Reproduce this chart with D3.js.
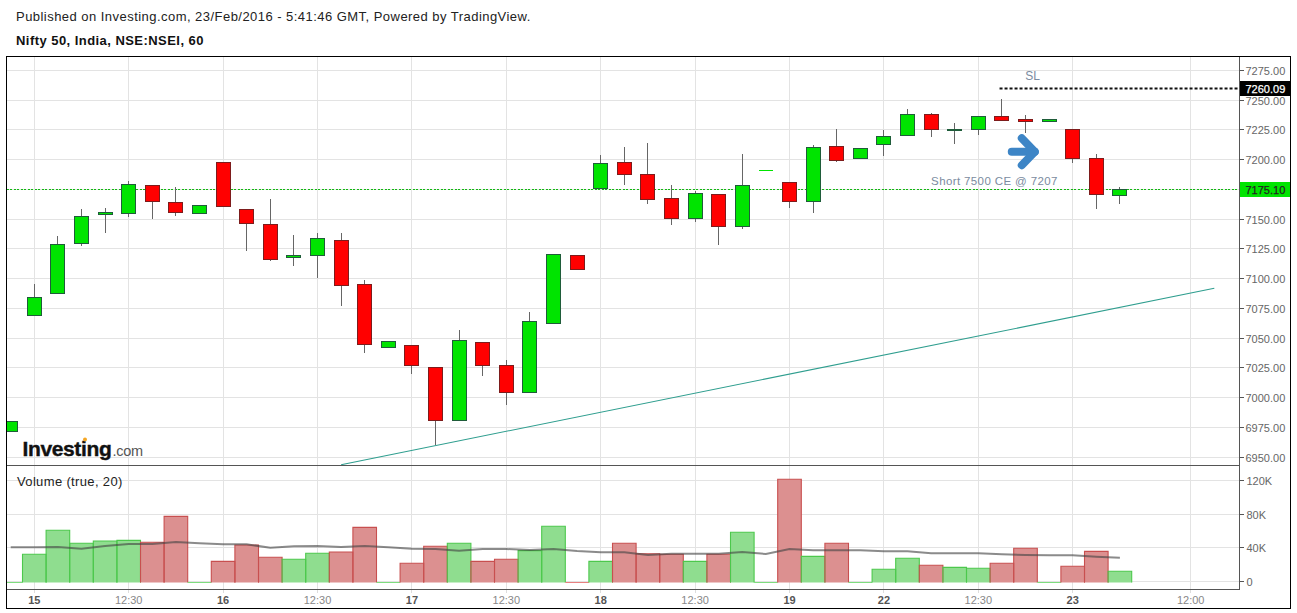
<!DOCTYPE html>
<html><head><meta charset="utf-8">
<script src="https://cdn.jsdelivr.net/npm/d3@7"></script>
<style>
html,body{margin:0;padding:0;background:#fff;overflow:hidden}
svg{display:block}
text{font-family:"Liberation Sans",Arial,sans-serif}
</style></head><body><div id="c"></div>
<script>
// bars start one hour before the "15" tick
const firstIndex = -1;
const open  = [6971.3,7068.8,7087.3,7129.3,7153.7,7154.8,7178.4,7164.1,7154.8,7197.7,7158.2,7145.6,7117.5,7119.2,7132.1,7095.2,7041.9,7043.9,7025.4,6980.9,7046.4,7027.1,7004.4,7062.1,7119.5,7175.5,7197.7,7187.6,7167.4,7150.3,7170.8,7143.6,7191.0,7180.9,7164.6,7211.1,7200.7,7212.5,7220.0,7238.0,7224.2,7225.1,7236.3,7233.8,7231.8,7225.4,7201.1,7169.6];
const high  = [6980.0,7095.4,7135.8,7158.5,7159.3,7181.7,7178.4,7176.9,7161.6,7197.7,7158.2,7166.9,7136.6,7138.3,7138.3,7098.8,7047.3,7043.9,7025.4,7056.8,7046.4,7031.6,7071.9,7120.4,7119.5,7203.8,7210.5,7213.9,7178.6,7173.6,7170.8,7204.7,7191.0,7180.9,7212.2,7225.7,7209.5,7224.8,7242.5,7239.1,7230.7,7236.3,7250.9,7237.4,7233.8,7225.4,7204.7,7176.7];
const low   = [6971.3,7068.8,7087.3,7127.4,7138.3,7152.0,7150.0,7152.6,7154.8,7160.4,7123.2,7114.8,7110.6,7100.7,7077.2,7037.7,7041.9,7019.8,6960.1,6980.9,7018.1,6993.7,7004.4,7062.1,7107.4,7175.5,7178.6,7162.7,7145.0,7147.5,7128.2,7141.6,7191.0,7159.3,7155.1,7197.9,7200.7,7203.0,7220.0,7219.0,7213.1,7220.9,7232.6,7222.3,7231.8,7197.4,7158.5,7162.7];
const close = [6980.0,7084.2,7128.8,7152.3,7155.1,7179.2,7164.6,7155.7,7161.6,7160.4,7146.1,7115.8,7119.5,7133.8,7094.0,7044.4,7047.3,7026.8,6980.9,7048.1,7026.8,7004.4,7064.1,7120.4,7107.4,7196.9,7187.3,7166.3,7150.3,7171.6,7143.6,7178.4,7191.0,7164.6,7210.3,7199.0,7209.5,7219.5,7238.0,7225.1,7225.4,7236.3,7232.6,7231.8,7233.8,7200.7,7170.5,7175.1];
const volume = [0,32.5,60.9,45.5,48.2,49.0,46.7,77.4,0,24.2,43.5,29.0,26.6,33.7,35.2,64.4,0,21.9,42.0,45.5,24.2,26.6,36.8,65.6,0,24.2,45.5,33.2,32.5,24.2,32.5,58.5,0,121.2,30.1,45.5,0,14.8,27.8,19.5,17.1,16.0,21.9,39.6,0,18.3,36.0,12.4];
const volumeUp = [1,1,1,1,1,1,0,0,1,0,0,0,1,1,0,0,1,0,0,1,0,0,1,1,0,1,0,0,0,1,0,1,1,0,1,0,1,1,1,0,1,1,0,0,1,0,0,1];
const volumeMA = [40.8,40.8,41.1,39.1,42.3,44.7,44.7,47.0,45.5,44.3,44.3,40.3,42.0,42.3,41.1,42.3,40.8,39.1,38.8,36.8,38.8,38.8,37.6,38.8,36.4,34.9,34.9,31.7,33.2,33.2,33.2,35.2,32.9,38.8,37.2,37.2,37.2,36.0,36.0,33.7,33.7,33.7,32.5,31.7,31.3,31.3,29.7,28.5];
const priceTicks = [6950,6975,7000,7025,7050,7075,7100,7125,7150,7175,7200,7225,7250,7275];
const volumeTicks = [0,40,80,120];
const timeTickIndex = [0,4,8,12,16,20,24,28,32,36,40,44,49];
const timeTickLabels = ["15","12:30","16","12:30","17","12:30","18","12:30","19","22","12:30","23","12:00"];
const lastPrice = 7175.10, stopLoss = 7260.09;
const trendIndex = [13,50], trendPrice = [6943.6,7091.8];
const headline = "Published on Investing.com, 23/Feb/2016 - 5:41:46 GMT, Powered by TradingView.";
const title = "Nifty 50, India, NSE:NSEI, 60";

const W=1297,H=613, L=6.5,T=56.5,R=1290.5,B=608.5, AX=1239.5, SEP=465.5, TAX=589.5;
const x=d3.scaleLinear().domain([0,49]).range([34.3,1190.7]);
const y=d3.scaleLinear().domain([6950,7275]).range([457.05,70.3]);
const yv=d3.scaleLinear().domain([0,120]).range([581.8,480.3]);
const px=v=>Math.floor(v)+.5;
const idx=d3.range(open.length).map(i=>i+firstIndex);

const svg=d3.select("#c").append("svg").attr("width",W).attr("height",H);
const defs=svg.append("defs");
defs.append("clipPath").attr("id","cp").append("rect").attr("x",L+.5).attr("y",T+.5).attr("width",AX-L-.5).attr("height",SEP-T-.5);
defs.append("clipPath").attr("id","cv").append("rect").attr("x",L+.5).attr("y",SEP+.5).attr("width",AX-L-.5).attr("height",TAX-SEP-.5);

svg.append("text").attr("x",16).attr("y",21).attr("font-size",13).attr("letter-spacing",.46).attr("fill","#222").text(headline);
svg.append("text").attr("x",16).attr("y",45).attr("font-size",13).attr("font-weight",700).attr("letter-spacing",.45).attr("fill","#111").text(title);

// grid
const grid=svg.append("g").attr("stroke","#e3e3e3").attr("stroke-width",1).attr("shape-rendering","crispEdges");
grid.selectAll(".v").data(timeTickIndex).join("line").attr("x1",d=>px(x(d))).attr("x2",d=>px(x(d))).attr("y1",T).attr("y2",TAX);
grid.selectAll(".h").data(priceTicks).join("line").attr("x1",L).attr("x2",AX).attr("y1",d=>px(y(d))).attr("y2",d=>px(y(d)));
grid.selectAll(".w").data(volumeTicks).join("line").attr("x1",L).attr("x2",AX).attr("y1",d=>px(yv(d))).attr("y2",d=>px(yv(d)));

// price pane
const pane=svg.append("g").attr("clip-path","url(#cp)");
pane.append("line").attr("x1",L).attr("x2",AX).attr("y1",px(y(lastPrice))).attr("y2",px(y(lastPrice)))
  .attr("stroke","#12b812").attr("stroke-dasharray","2,1.5").attr("shape-rendering","crispEdges");
pane.append("line").attr("x1",x(trendIndex[0])).attr("x2",x(trendIndex[1])).attr("y1",y(trendPrice[0])).attr("y2",y(trendPrice[1]))
  .attr("stroke","#2f9e8f").attr("stroke-width",1.1);
const candles=pane.selectAll(".c").data(idx).join("g");
candles.append("line").attr("x1",(d,i)=>px(x(d))).attr("x2",(d,i)=>px(x(d)))
  .attr("y1",(d,i)=>y(high[i])).attr("y2",(d,i)=>y(low[i]))
  .attr("stroke","#666").attr("shape-rendering","crispEdges");
candles.filter((d,i)=>open[i]!==close[i]).append("rect")
  .attr("x",d=>px(x(d))-7).attr("width",14)
  .attr("y",d=>px(y(Math.max(open[idx.indexOf(d)],close[idx.indexOf(d)]))))
  .attr("height",d=>{const i=idx.indexOf(d);return Math.max(1,px(y(Math.min(open[i],close[i])))-px(y(Math.max(open[i],close[i]))));})
  .attr("fill",d=>{const i=idx.indexOf(d);return close[i]>open[i]?"#00e400":"#ff0000";})
  .attr("stroke",d=>{const i=idx.indexOf(d);return close[i]>open[i]?"#1f5c3a":"#7d1c1c";})
  .attr("stroke-width",1).attr("shape-rendering","crispEdges");
candles.filter((d,i)=>open[i]===close[i]).append("line")
  .attr("x1",d=>px(x(d))-7).attr("x2",d=>px(x(d))+7)
  .attr("y1",d=>px(y(open[idx.indexOf(d)]))).attr("y2",d=>px(y(open[idx.indexOf(d)])))
  .attr("stroke","#00e400").attr("shape-rendering","crispEdges");

// drawings
pane.append("line").attr("x1",x(40.9)).attr("x2",AX).attr("y1",px(y(stopLoss))).attr("y2",px(y(stopLoss)))
  .attr("stroke","#111").attr("stroke-width",2).attr("stroke-dasharray","3,2");
svg.append("text").attr("x",x(42)).attr("y",y(7266.9)).attr("text-anchor","middle").attr("dx",7).attr("font-size",12).attr("fill","#7b8ba0").text("SL");
svg.append("text").attr("x",x(38)).attr("y",185).attr("font-size",11.5).attr("fill","#7b8ba0").attr("letter-spacing",.38).text("Short 7500 CE @ 7207");
const ar=svg.append("g").attr("transform",`translate(${x(41.8)},${y(7207)})`).attr("fill","none").attr("stroke","#3d85c6").attr("stroke-width",8).attr("stroke-linecap","round").attr("stroke-linejoin","round");
ar.append("path").attr("d",d3.line()([[-9,.5],[14,.5]]));
ar.append("path").attr("d",d3.line()([[1,-13],[14,.5],[1,14]]));

// logo
const logo=svg.append("g");
logo.append("text").attr("x",22.5).attr("y",455.5).attr("font-size",21).attr("font-weight",700).attr("letter-spacing",-.37).attr("fill","#111").attr("stroke","#111").attr("stroke-width",.4).text("Investing");
logo.append("text").attr("x",112.5).attr("y",456).attr("font-size",14.5).attr("fill","#555").attr("letter-spacing",-.3).text(".com");
logo.append("circle").attr("cx",85).attr("cy",439.5).attr("r",2).attr("fill","#f5a623");

// volume pane
const vol=svg.append("g").attr("clip-path","url(#cv)");
const barPath=(d,i)=>{const p=d3.path(),a=x(d-.5),b=x(d+.5),z=yv(0)+.7,t=volume[i]===0?z:yv(volume[i]);p.moveTo(a,z);p.lineTo(a,t);p.lineTo(b,t);p.lineTo(b,z);return p.toString();};
const barArea=(d,i)=>barPath(d,i)+"Z";
vol.selectAll(".a").data(idx).join("path").attr("d",barArea).attr("fill",(d,i)=>volumeUp[i]?"#8fdd8f":"#dc9090").attr("stroke","none");
vol.selectAll(".b").data(idx).join("path").attr("d",barPath).attr("fill","none")
  .attr("stroke",(d,i)=>volume[i]===0?(volumeUp[i]?"#7fdc7f":"#e88080"):(volumeUp[i]?"#4cc84c":"#c84f4f")).attr("stroke-width",1.1);
vol.append("path").datum(idx).attr("fill","none").attr("stroke","#444").attr("stroke-opacity",.62).attr("stroke-width",2)
  .attr("d",d3.line().x(d=>x(d)).y((d,i)=>yv(volumeMA[i])));
svg.append("text").attr("x",17).attr("y",486).attr("font-size",13).attr("letter-spacing",.35).attr("fill","#222").text("Volume (true, 20)");

// axes
const fmtK=d=>d===0?"0":d+"K";
function style(g,col,size){g.select(".domain").attr("stroke","#555").attr("shape-rendering","crispEdges");
  g.selectAll(".tick line").attr("stroke","#555").attr("shape-rendering","crispEdges");
  g.selectAll(".tick text").attr("fill",col).attr("font-size",size).attr("font-family",'"Liberation Sans",Arial,sans-serif');}
const gp=svg.append("g").attr("transform",`translate(${AX},0)`).call(d3.axisRight(y).tickValues(priceTicks).tickFormat(d3.format(".2f")).tickSize(4).tickPadding(2).offset(0));
style(gp,"#666",11); gp.select(".domain").remove();
gp.selectAll(".tick text").attr("dy","0.41em");
const gv=svg.append("g").attr("transform",`translate(${AX},0)`).call(d3.axisRight(yv).tickValues(volumeTicks).tickFormat(fmtK).tickSize(4).tickPadding(2).offset(0));
style(gv,"#666",11); gv.select(".domain").remove();
gv.selectAll(".tick text").attr("dy","0.41em").attr("dx",1);
svg.append("line").attr("x1",AX).attr("x2",AX).attr("y1",T).attr("y2",TAX).attr("stroke","#555").attr("shape-rendering","crispEdges");
svg.append("line").attr("x1",L).attr("x2",AX).attr("y1",SEP).attr("y2",SEP).attr("stroke","#555").attr("shape-rendering","crispEdges");
const gt=svg.append("g").attr("transform",`translate(0,${TAX})`).call(d3.axisBottom(x).tickValues(timeTickIndex).tickFormat((d,i)=>timeTickLabels[i]).tickSize(3).tickPadding(4).offset(0));
style(gt,"#888",11); gt.select(".domain").remove();
gt.selectAll(".tick line").attr("stroke","#ddd");
gt.selectAll(".tick text").filter((d,i)=>!timeTickLabels[i].includes(":")).attr("fill","#555").attr("font-weight",700);
svg.append("line").attr("x1",L).attr("x2",AX).attr("y1",TAX).attr("y2",TAX).attr("stroke","#555").attr("shape-rendering","crispEdges");

// price badges
const badge=(v,bg,fg)=>{const yy=y(v);
  svg.append("rect").attr("x",AX+.5).attr("y",Math.round(yy)-7).attr("width",R-AX-.5).attr("height",15).attr("fill",bg);
  svg.append("text").attr("x",AX+6).attr("y",Math.round(yy)+5).attr("font-size",11).attr("fill",fg).attr("stroke",fg).attr("stroke-width",.25).text(d3.format(".2f")(v));};
badge(stopLoss,"#000","#fff");
badge(lastPrice,"#00e400","#222");

// frame
svg.append("rect").attr("x",L).attr("y",T).attr("width",R-L).attr("height",B-T).attr("fill","none").attr("stroke","#000").attr("shape-rendering","crispEdges");
</script></body></html>
